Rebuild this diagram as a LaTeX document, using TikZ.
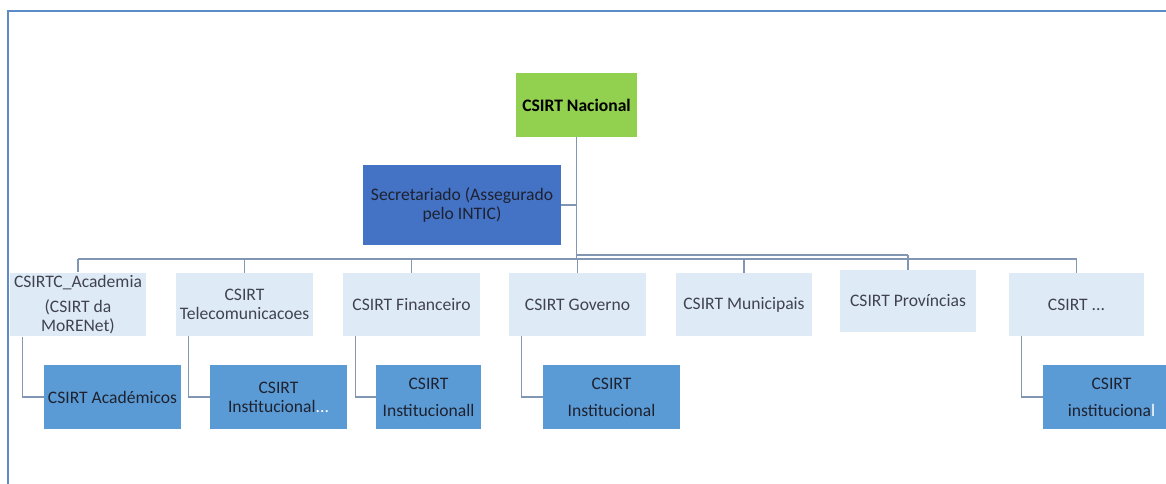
\documentclass[tikz,border=0pt]{standalone}
\usepackage{fontspec}
\setmainfont{Carlito}
\usepackage{tikz}
\usetikzlibrary{calc}
\definecolor{fillNac}{RGB}{146,208,80}
\definecolor{fillSec}{RGB}{68,114,196}
\definecolor{fillLvA}{RGB}{222,235,247}
\definecolor{fillLvB}{RGB}{91,155,213}
\definecolor{connclr}{RGB}{128,150,178}
\definecolor{frameclr}{RGB}{92,140,200}
\definecolor{txtclr}{RGB}{30,34,48}
\tikzset{
  % Caixas
  boxbase/.style = {rectangle, inner sep=2pt, align=center, text=txtclr,
                    font=\fontsize{15}{16}\selectfont},
  nacbox/.style  = {boxbase, fill=fillNac, text=black, minimum width=3.63cm,
                    minimum height=1.92cm, font=\fontsize{15}{16}\selectfont\bfseries},
  secbox/.style  = {boxbase, fill=fillSec, minimum width=5.94cm, minimum height=2.4cm},
  lvla/.style    = {boxbase, fill=fillLvA, text=txtclr!85, minimum width=4.1cm,
                    minimum height=1.89cm},
  lvlb/.style    = {boxbase, fill=fillLvB, minimum width=4.11cm, minimum height=1.92cm},
  % Ligacoes
  conn/.style    = {draw=connclr, line width=0.9pt},
  framel/.style  = {draw=frameclr, line width=1.2pt},
}
\begin{document}
\begin{tikzpicture}[x=0.03cm, y=-0.03cm]
  \useasboundingbox (0,0) rectangle (1166,484);
  % Moldura
  \draw[framel] (8,484) -- (8,11) -- (1166,11);
  % Nivel superior
  \node[nacbox] (nac) at (576.5,105) {CSIRT Nacional};
  \node[secbox] (sec) at (462,205) {Secretariado (Assegurado\\pelo INTIC)};
  % Nivel 1
  \node[lvla] (acad) at (78,304.5) {CSIRTC\_Academia\\[6pt](CSIRT da\\MoRENet)};
  \node[lvla] (tele) at (244.5,304.5) {CSIRT\\Telecomunicacoes};
  \node[lvla] (fin)  at (411.5,304.5) {CSIRT Financeiro};
  \node[lvla] (gov)  at (577.5,304.5) {CSIRT Governo};
  \node[lvla] (mun)  at (744,304.5) {CSIRT Municipais};
  \node[lvla, minimum height=1.86cm] (prov) at (908,301) {CSIRT Províncias};
  \node[lvla, minimum width=4.05cm] (outr) at (1076.5,304.5) {\raisebox{-5pt}{CSIRT ...}};
  % Nivel 2
  \node[lvlb] (acadi) at (112.5,397) {CSIRT Académicos};
  \node[lvlb] (telei) at (278.5,397) {CSIRT\\Institucional\textcolor{white}{...}};
  \node[lvlb, minimum width=3.15cm] (fini) at (428.5,397) {CSIRT\\[7pt]Institucionall};
  \node[lvlb] (govi)  at (611.5,397) {CSIRT\\[7pt]Institucional};
  \node[lvlb] (outri) at (1111.5,397) {CSIRT\\[7pt]instituciona\textcolor{white}{l}};
  % Barramento
  \coordinate (busL) at (78,259);
  \coordinate (busR) at (1077,259);
  \coordinate (busP) at (908,255);
  \draw[conn] (nac.south) -- (nac.south |- busL);
  \draw[conn] (busL) -- (busR);
  \draw[conn] (nac.south |- busP) -- (busP);
  \draw[conn] (sec.east) -- (sec.east -| nac.south);
  \foreach \n in {acad,tele,fin,gov,mun,outr}
    \draw[conn] (\n.north) -- (\n.north |- busL);
  \draw[conn] (prov.north) -- (busP);
  \foreach \a/\b in {acad/acadi,tele/telei,fin/fini,gov/govi,outr/outri}
    \draw[conn] ($(\a.south west)+(13,0)$) |- (\b.west);
\end{tikzpicture}
\end{document}
